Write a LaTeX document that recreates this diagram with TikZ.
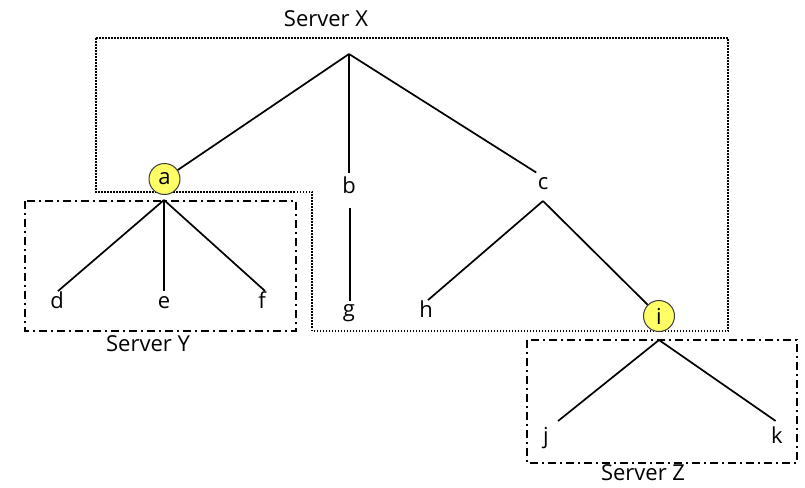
\documentclass[tikz,border=0pt]{standalone}
\usepackage{fontspec}
\setmainfont{Open Sans}
\definecolor{hilite}{RGB}{255,255,102}
\definecolor{rim}{RGB}{60,60,60}
\tikzset{
  lbl/.style={font=\fontsize{22}{24}\selectfont, inner sep=0pt, anchor=base},
  srv/.style={font=\fontsize{22}{24}\selectfont, inner sep=0pt, anchor=base},
  hub/.style={circle, fill=hilite, draw=rim, line width=1pt, minimum size=31pt, inner sep=0pt, font=\fontsize{22}{24}\selectfont},
  edge/.style={line width=1.7pt, black},
  dotbox/.style={line width=1.6pt, dash pattern=on 1.5pt off 1.5pt},
  dashdotbox/.style={line width=1.6pt, dash pattern=on 8pt off 4pt on 2pt off 4pt}
}
\begin{document}
\begin{tikzpicture}[x=1pt,y=-1pt]
\useasboundingbox (0,0) rectangle (805,487);
% server boxes
\draw[dotbox] (96,38) -- (728,38) -- (728,331) -- (312,331) -- (312,192) -- (96,192) -- cycle;
\draw[dashdotbox] (25,201) rectangle (296,331);
\draw[dashdotbox] (527,340) rectangle (797,463);
\node[srv] (sx) at (326,27) {Server X};
\node[srv] (sy) at (148,351) {Server Y};
\node[srv] (sz) at (643,480) {Server Z};
% tree
\coordinate (root) at (349,54);
\node[hub] (a) at (164.5,179) {a};
\node[lbl] (b) at (349,193) {b};
\node[lbl] (c) at (543,189) {c};
\coordinate (aTop) at (164,200);
\coordinate (cTop) at (543,201);
\node[lbl] (d) at (57,308) {d};
\node[lbl] (e) at (164,308) {e};
\node[lbl] (f) at (262,308) {f};
\node[lbl] (g) at (349,316) {g};
\node[lbl] (h) at (426,317) {h};
\node[hub] (i) at (659,316) {i};
\coordinate (iTop) at (659,340);
\node[lbl] (j) at (546,443) {j};
\node[lbl] (k) at (777,443) {k};
\draw[edge] (root) -- (a);
\draw[edge, shorten >=3pt] (root) -- (b.north);
\draw[edge, shorten >=8pt] (root) -- (c.north);
\draw[edge] (aTop) -- ([xshift=1pt]d.north);
\draw[edge, shorten >=5pt] (aTop) -- (e.north);
\draw[edge] (aTop) -- ([xshift=3pt]f.north);
\draw[edge, shorten <=15pt, shorten >=3pt] ([xshift=1pt]b.south) -- ([xshift=1pt]g.north);
\draw[edge] (cTop) -- ([xshift=2pt]h.north);
\draw[edge] (cTop) -- (i);
\draw[edge, shorten >=9pt] (iTop) -- ([xshift=5pt]j.north);
\draw[edge, shorten >=9pt] (iTop) -- ([xshift=6pt]k.north);
\end{tikzpicture}
\end{document}
